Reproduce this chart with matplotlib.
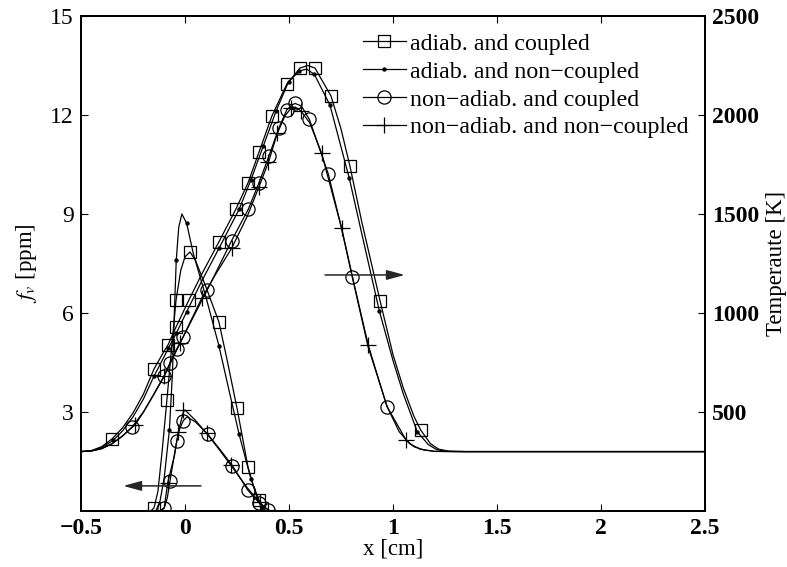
import matplotlib
matplotlib.use('Agg')
import matplotlib.pyplot as plt
from matplotlib.lines import Line2D

plt.rcParams['font.family'] = ['Liberation Serif', 'DejaVu Serif']
plt.rcParams['mathtext.fontset'] = 'stix'

labels = ['adiab. and coupled', 'adiab. and non\u2212coupled',
          'non\u2212adiab. and coupled', 'non\u2212adiab. and non\u2212coupled']

# temperature [K], lines
T_ac_x = [-0.5, -0.45, -0.4, -0.351, -0.3, -0.25, -0.2, -0.149, -0.1, -0.082, -0.043, 0.019, 0.08,
          0.163, 0.245, 0.303, 0.356, 0.418, 0.49, 0.553, 0.59, 0.625, 0.702, 0.75, 0.793, 0.85,
          0.938, 1.0, 1.05, 1.1, 1.133, 1.18, 1.22, 1.27, 1.35, 2.5]
T_ac = [300, 305, 325, 364, 420, 495, 590, 717, 808, 838, 929, 1066, 1195,
        1359, 1525, 1657, 1813, 1995, 2157, 2237, 2250, 2237, 2096, 1930, 1742, 1460,
        1061, 790, 620, 480, 409, 340, 312, 302, 300, 300]

T_an_x = [-0.5, -0.45, -0.4, -0.345, -0.3, -0.25, -0.2, -0.148, -0.1, -0.08, -0.042, 0.008, 0.08,
          0.163, 0.26, 0.317, 0.377, 0.438, 0.498, 0.55, 0.585, 0.622, 0.697, 0.79, 0.85,
          0.934, 1.0, 1.05, 1.117, 1.17, 1.21, 1.26, 1.35, 2.5]
T_an = [300, 304, 320, 357, 405, 475, 565, 683, 780, 822, 897, 1006, 1160,
        1326, 1523, 1672, 1845, 2020, 2168, 2222, 2232, 2205, 2050, 1680, 1400,
        1012, 760, 590, 400, 335, 310, 301, 300, 300]

T_nc_x = [-0.5, -0.45, -0.4, -0.35, -0.3, -0.253, -0.2, -0.15, -0.1, -0.072, -0.04, -0.008, 0.05,
          0.107, 0.224, 0.304, 0.356, 0.404, 0.452, 0.489, 0.515, 0.53, 0.56, 0.598, 0.689, 0.75,
          0.804, 0.88, 0.973, 1.03, 1.08, 1.13, 1.2, 1.3, 2.5]
T_nc = [300, 303, 315, 340, 378, 426, 500, 590, 683, 749, 818, 880, 1000,
        1116, 1365, 1523, 1658, 1794, 1936, 2025, 2052, 2058, 2045, 1978, 1702, 1440,
        1183, 830, 524, 400, 340, 312, 301, 300, 300]

T_nn_x = [-0.5, -0.45, -0.4, -0.35, -0.3, -0.24, -0.2, -0.15, -0.1, -0.05, -0.024, 0.08, 0.15,
          0.224, 0.3, 0.356, 0.401, 0.444, 0.48, 0.51, 0.53, 0.558, 0.6, 0.657, 0.753, 0.81,
          0.881, 0.97, 1.063, 1.1, 1.15, 1.2, 1.3, 2.5]
T_nn = [300, 303, 315, 340, 380, 435, 498, 588, 680, 790, 847, 1074, 1200,
        1326, 1490, 1638, 1761, 1907, 1995, 2034, 2040, 2020, 1960, 1806, 1428, 1160,
        838, 530, 358, 325, 308, 301, 300, 300]

# temperature markers
Tm_ac_x = [-0.351, -0.149, -0.082, -0.043, 0.019, 0.163, 0.245, 0.303, 0.356, 0.418, 0.49, 0.553,
           0.625, 0.702, 0.793, 0.938, 1.133]
Tm_ac = [364, 717, 838, 929, 1066, 1359, 1525, 1657, 1813, 1995, 2157, 2237,
         2237, 2096, 1742, 1061, 409]
Tm_an_x = [-0.345, -0.148, -0.08, -0.042, 0.008, 0.163, 0.26, 0.317, 0.377, 0.438, 0.498, 0.55,
           0.622, 0.697, 0.79, 0.934, 1.117]
Tm_an = [357, 683, 822, 897, 1006, 1326, 1523, 1672, 1845, 2020, 2168, 2222,
         2205, 2050, 1680, 1012, 400]
Tm_nc_x = [-0.253, -0.1, -0.072, -0.04, -0.008, 0.107, 0.224, 0.304, 0.356, 0.404, 0.452, 0.489,
           0.529, 0.598, 0.689, 0.804, 0.973]
Tm_nc = [426, 683, 749, 818, 880, 1116, 1365, 1523, 1658, 1794, 1936, 2025,
         2059, 1978, 1702, 1183, 524]
Tm_nn_x = [-0.24, -0.1, -0.024, 0.08, 0.224, 0.356, 0.401, 0.444, 0.51, 0.558, 0.657, 0.753,
           0.881, 1.063]
Tm_nn = [435, 680, 847, 1074, 1326, 1638, 1761, 1907, 2034, 2020, 1806, 1428,
         838, 358]

# soot volume fraction [ppm], lines
fv_ac_x = [-0.165, -0.149, -0.13, -0.11, -0.087, -0.065, -0.043, -0.02, 0.0, 0.024, 0.05, 0.1,
           0.163, 0.2, 0.25, 0.303, 0.33, 0.356, 0.375, 0.39]
fv_ac = [0, 0.09, 0.6, 1.8, 3.36, 4.9, 6.39, 7.3, 7.7, 7.85, 7.6, 6.8,
         5.73, 4.65, 3.12, 1.33, 0.75, 0.33, 0.1, 0]
fv_an_x = [-0.14, -0.12, -0.1, -0.075, -0.06, -0.05, -0.042, -0.03, -0.015, 0.008, 0.04, 0.1,
           0.163, 0.21, 0.26, 0.317, 0.35, 0.37, 0.38]
fv_an = [0, 0.3, 1.0, 2.45, 4.2, 6.2, 7.6, 8.6, 9.0, 8.72, 7.8, 6.5,
         5.01, 3.7, 2.33, 0.97, 0.35, 0.07, 0]
fv_nc_x = [-0.12, -0.1, -0.085, -0.072, -0.055, -0.04, -0.025, -0.008, 0.01, 0.05, 0.109, 0.17,
           0.228, 0.301, 0.356, 0.4, 0.41]
fv_nc = [0, 0.08, 0.4, 0.91, 1.55, 2.12, 2.5, 2.74, 2.85, 2.7, 2.33, 1.85,
         1.37, 0.64, 0.25, 0.03, 0]
fv_nn_x = [-0.12, -0.1, -0.083, -0.05, -0.032, -0.024, -0.008, 0.0, 0.05, 0.104, 0.16,
           0.22, 0.3, 0.36, 0.4, 0.41]
fv_nn = [0, 0.1, 0.86, 1.7, 2.4, 2.6, 3.0, 3.06, 2.75, 2.35, 1.9,
         1.39, 0.7, 0.25, 0.03, 0]

# soot markers
fvm_ac_x = [-0.149, -0.087, -0.043, 0.024, 0.163, 0.25, 0.303, 0.356]
fvm_ac = [0.09, 3.36, 6.39, 7.85, 5.73, 3.12, 1.33, 0.33]
fvm_an_x = [-0.075, -0.042, 0.008, 0.163, 0.26, 0.317]
fvm_an = [2.45, 7.6, 8.72, 5.01, 2.33, 0.97]
fvm_nc_x = [-0.1, -0.072, -0.04, -0.008, 0.109, 0.228, 0.301, 0.356, 0.4]
fvm_nc = [0.08, 0.91, 2.12, 2.74, 2.33, 1.37, 0.64, 0.25, 0.03]
fvm_nn_x = [-0.083, -0.032, -0.008, 0.104, 0.22, 0.36, 0.4]
fvm_nn = [0.86, 2.4, 3.06, 2.35, 1.39, 0.28, 0.03]

styles = [dict(marker='s', ms=8.5, mfc='none'),
          dict(marker='.', ms=4.5),
          dict(marker='o', ms=9.5, mfc='none'),
          dict(marker='+', ms=11)]

fig = plt.figure(figsize=(7.87, 5.67), dpi=100)
ax = fig.add_axes([0.1029, 0.0988, 0.7929, 0.873])
ax2 = ax.twinx()

lw = 0.9
fv_lines = [(fv_ac_x, fv_ac), (fv_an_x, fv_an), (fv_nc_x, fv_nc), (fv_nn_x, fv_nn)]
fv_marks = [(fvm_ac_x, fvm_ac), (fvm_an_x, fvm_an), (fvm_nc_x, fvm_nc), (fvm_nn_x, fvm_nn)]
T_lines = [(T_ac_x, T_ac), (T_an_x, T_an), (T_nc_x, T_nc), (T_nn_x, T_nn)]
T_marks = [(Tm_ac_x, Tm_ac), (Tm_an_x, Tm_an), (Tm_nc_x, Tm_nc), (Tm_nn_x, Tm_nn)]

for i in range(4):
    ax.plot(*fv_lines[i], color='k', lw=lw)
    ax.plot(*fv_marks[i], ls='none', color='k', mew=0.9, **styles[i])
    ax2.plot(*T_lines[i], color='k', lw=lw)
    ax2.plot(*T_marks[i], ls='none', color='k', mew=0.9, **styles[i])

ax.set_xlim(-0.5, 2.5)
ax.set_ylim(0, 15)
ax2.set_ylim(0, 2500)
ax.set_xticks([-0.5, 0, 0.5, 1, 1.5, 2, 2.5])
ax.set_xticklabels(['\u22120.5', '0', '0.5', '1', '1.5', '2', '2.5'], fontweight='bold')
ax.set_yticks([3, 6, 9, 12, 15])
ax2.set_yticks([500, 1000, 1500, 2000, 2500])
ax2.set_yticklabels(['500', '1000', '1500', '2000', '2500'], fontweight='bold')

ax.tick_params(axis='x', direction='in', top=True, length=5, labelsize=17, pad=5)
ax.tick_params(axis='y', direction='in', length=5, labelsize=17, pad=5)
ax2.tick_params(axis='y', direction='in', length=5, labelsize=17, pad=5)
for a in (ax, ax2):
    for s in a.spines.values():
        s.set_linewidth(1.3)

ax.set_xlabel('x [cm]', fontsize=16.5, labelpad=0)
ax.set_ylabel(r'$f_v$ [ppm]', fontsize=16.5, labelpad=8)
ax2.set_ylabel('Temperaute [K]', fontsize=16.5, labelpad=5)

# arrows pointing to the axis of each group
ax.annotate('', xy=(-0.31, 0.76), xytext=(0.09, 0.76),
            arrowprops=dict(arrowstyle='-|>,head_length=1.1,head_width=0.3', color='0.15', lw=1.1))
ax2.annotate('', xy=(1.07, 1192), xytext=(0.66, 1192),
             arrowprops=dict(arrowstyle='-|>,head_length=1.1,head_width=0.3', color='0.15', lw=1.1))

handles = [Line2D([], [], color='k', lw=lw, mew=0.9, **st) for st in styles]
ax2.legend(handles, labels, loc='upper left', bbox_to_anchor=(0.436, 0.985), frameon=False,
           fontsize=17.2, handlelength=1.8, handletextpad=0.2, labelspacing=0.26,
           borderpad=0.2, borderaxespad=0.2)

fig.savefig('out.png', dpi=100)
